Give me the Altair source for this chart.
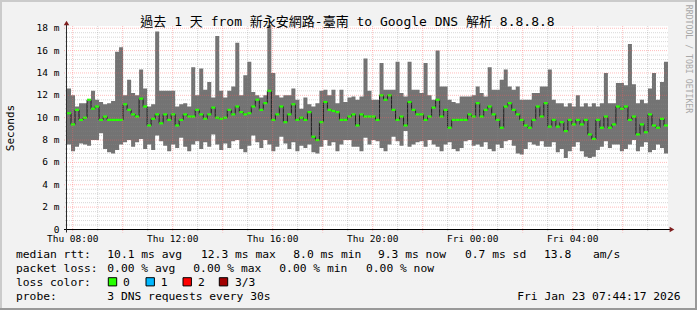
import altair as alt
import pandas as pd

# ---------------- data ----------------
smoke_max = [
    12.6, 12.0, 11.0, 11.3, 11.3, 11.6, 12.4, 11.6, 11.4, 11.2,
    11.3, 11.5, 15.9, 16.3, 12.0, 13.4, 12.2, 12.0, 14.3, 12.6,
    11.0, 11.2, 17.7, 12.4, 12.4, 12.4, 12.4, 11.0, 11.2, 11.3,
    11.0, 14.5, 12.0, 14.4, 12.5, 13.2, 11.8, 17.3, 12.4, 11.8,
    12.4, 12.8, 16.7, 12.0, 13.8, 15.0, 12.3, 12.0, 11.8, 12.0,
    18.3, 14.0, 12.0, 11.8, 12.0, 12.0, 12.6, 11.6, 10.8, 11.8,
    11.2, 11.0, 11.3, 12.4, 12.5, 12.0, 12.5, 11.3, 12.5, 11.4,
    11.8, 11.9, 11.6, 11.9, 15.3, 12.4, 11.6, 11.6, 14.9, 12.5,
    12.5, 12.5, 15.0, 12.2, 11.9, 15.0, 12.5, 12.5, 12.2, 14.9,
    12.0, 11.6, 16.0, 12.8, 12.8, 11.6, 11.4, 11.3, 11.9, 11.9,
    11.9, 12.0, 12.8, 12.2, 11.9, 14.5, 12.5, 12.5, 13.4, 14.3,
    12.8, 12.5, 12.8, 11.6, 11.6, 11.6, 12.2, 12.2, 12.8, 12.8,
    14.3, 11.6, 11.3, 11.3, 11.0, 11.3, 11.0, 12.0, 11.0, 11.3,
    11.0, 11.3, 11.0, 11.3, 14.0, 11.3, 11.3, 13.1, 13.1, 12.9,
    16.6, 13.0, 11.3, 11.6, 11.3, 12.6, 14.0, 11.6, 13.2, 15.0,
]
smoke_min = [
    7.6, 7.0, 7.4, 7.7, 7.6, 7.5, 8.0, 8.0, 8.6, 7.2,
    6.9, 6.8, 7.1, 7.6, 7.8, 8.0, 7.4, 7.8, 8.1, 7.2,
    7.6, 7.1, 8.4, 7.9, 7.5, 7.0, 7.6, 7.3, 8.2, 7.4,
    7.0, 7.6, 7.9, 7.2, 7.8, 7.4, 8.5, 7.6, 7.1, 7.7,
    7.3, 7.9, 8.0, 7.2, 6.9, 7.5, 8.4, 7.8, 7.3, 8.0,
    7.6, 7.0, 7.4, 8.3, 7.7, 7.2, 7.8, 7.0, 7.5, 7.3,
    7.6, 6.9, 6.8, 7.4, 8.0, 7.5, 7.8, 7.0, 7.6, 8.0,
    8.0, 7.4, 7.4, 7.0, 8.2, 7.6, 8.0, 7.9, 7.3, 7.0,
    7.6, 8.3, 7.9, 7.5, 8.8, 7.4, 7.6, 7.8, 7.9, 7.4,
    8.0, 7.6, 7.4, 7.0, 7.6, 7.8, 7.2, 7.0, 7.3, 7.9,
    8.0, 7.5, 7.6, 7.4, 7.8, 7.2, 7.0, 7.6, 7.3, 7.9,
    8.0, 7.5, 6.8, 6.7, 7.2, 7.8, 7.6, 7.5, 7.9, 7.4,
    7.4, 7.8, 6.9, 7.2, 6.4, 7.0, 7.4, 7.8, 7.0, 6.5,
    6.4, 6.5, 7.1, 7.4, 7.9, 7.3, 7.6, 7.6, 7.0, 7.2,
    7.6, 8.0, 7.0, 7.4, 7.8, 6.9, 7.1, 7.6, 7.3, 6.8,
]
median_rtt = [
    10.4, 9.4, 10.7, 9.8, 10.0, 11.6, 10.8, 11.0, 9.8, 10.1,
    9.8, 9.8, 9.8, 9.8, 11.2, 10.7, 10.3, 10.1, 11.7, 11.0,
    9.3, 9.9, 10.3, 9.5, 10.3, 9.8, 10.3, 9.3, 9.8, 10.3,
    10.1, 10.1, 10.7, 10.3, 9.9, 10.3, 10.9, 10.0, 9.9, 10.0,
    10.7, 10.3, 11.0, 10.5, 10.3, 10.4, 11.0, 11.6, 10.7, 11.3,
    12.4, 9.8, 10.3, 11.0, 9.6, 10.3, 11.2, 9.8, 10.0, 9.8,
    10.5, 8.3, 8.0, 9.6, 11.4, 10.7, 10.6, 10.5, 9.8, 9.8,
    10.1, 10.3, 9.3, 10.3, 10.1, 10.1, 10.1, 9.8, 12.0, 11.6,
    12.0, 10.7, 9.8, 10.1, 9.3, 11.4, 10.7, 10.3, 10.3, 9.8,
    10.1, 10.9, 11.6, 10.1, 10.7, 9.1, 9.8, 9.8, 9.8, 9.8,
    10.3, 10.1, 11.3, 10.1, 10.7, 11.0, 10.3, 9.8, 9.1, 11.0,
    11.3, 10.7, 10.3, 9.8, 9.3, 9.1, 9.8, 11.0, 10.1, 11.3,
    9.2, 9.8, 9.2, 9.6, 8.8, 9.8, 9.4, 9.8, 9.4, 9.8,
    8.5, 8.1, 9.8, 9.1, 10.1, 9.1, 9.4, 11.0, 10.8, 11.0,
    9.8, 10.1, 8.5, 9.4, 8.7, 10.3, 9.3, 9.1, 9.9, 9.3,
]

START_HOUR = 7.772            # Thu 07:46
STEP_HOURS = 24.04 / 150      # one consolidated step

x_tick_hours = [8, 12, 16, 20, 24, 28]
x_tick_labels = ["Thu 08:00", "Thu 12:00", "Thu 16:00", "Thu 20:00", "Fri 00:00", "Fri 04:00"]
y_tick_values = [0, 2, 4, 6, 8, 10, 12, 14, 16, 18]
y_tick_labels = ["0", "2 m", "4 m", "6 m", "8 m", "10 m", "12 m", "14 m", "16 m", "18 m"]

title_text = "過去 1 天 from 新永安網路-臺南 to Google DNS 解析 8.8.8.8"
legend_rows = [
    ["median rtt:", "10.1 ms avg", "12.3 ms max", "8.0 ms min", "9.3 ms now", "0.7 ms sd", "13.8", "am/s"],
    ["packet loss:", "0.00 % avg", "0.00 % max", "0.00 % min", "0.00 % now"],
    ["loss color:", "0", "1", "2", "3/3"],
    ["probe:", "3 DNS requests every 30s"],
]
loss_colors = ["#26ff00", "#00b8ff", "#ff0000", "#a10000"]
date_text = "Fri Jan 23 07:44:17 2026"
side_text = "RRDTOOL / TOBI OETIKER"

# ---------------- layout ----------------
W, H = 601, 203.5
OX, OY = 67, 26     # plot origin in page pixels
MONO = "DejaVu Sans Mono, Noto Sans CJK TC"

n = len(median_rtt)
t = [START_HOUR + i * STEP_HOURS for i in range(n + 1)]
X_END = t[-1]
steps = pd.DataFrame({
    "t": t,
    "lo": smoke_min + [smoke_min[-1]],
    "hi": smoke_max + [smoke_max[-1]],
    "med": median_rtt + [median_rtt[-1]],
})
blocks = pd.DataFrame({
    "t0": t[:-1], "t1": t[1:],
    "m0": [m - 0.1 for m in median_rtt],
    "m1": [m + 0.1 for m in median_rtt],
})

xs = alt.Scale(domain=[START_HOUR, X_END], nice=False, zero=False)
ys = alt.Scale(domain=[0, 18.2], nice=False, zero=False)

one = pd.DataFrame({"a": [0]})

def px(x):  # page x -> plot-relative
    return alt.value(x - OX)

def py(y):
    return alt.value(y - OY)

smoke = alt.Chart(steps).mark_area(interpolate="step-after", color="#737373").encode(
    x=alt.X("t:Q", scale=xs, axis=None),
    y=alt.Y("lo:Q", scale=ys, axis=None),
    y2="hi:Q",
)
medline = alt.Chart(steps).mark_line(interpolate="step-after", color="#1e1e1e", strokeWidth=1).encode(
    x=alt.X("t:Q", scale=xs, axis=None),
    y=alt.Y("med:Q", scale=ys, axis=None),
)
green = alt.Chart(blocks).mark_rect(color=loss_colors[0]).encode(
    x=alt.X("t0:Q", scale=xs, axis=None), x2="t1:Q",
    y=alt.Y("m0:Q", scale=ys, axis=None), y2="m1:Q",
)

# grid
hours_all = list(range(8, 32))
minor_x = pd.DataFrame({"h": [h for h in hours_all if h % 2 == 1]})
major_x = pd.DataFrame({"h": [h for h in hours_all if h % 2 == 0]})
minor_y = pd.DataFrame({"v": [round(i * 0.4, 2) for i in range(1, 46) if (i * 0.4) % 2 > 0.01 and (i * 0.4) % 2 < 1.99]})
major_y = pd.DataFrame({"v": y_tick_values[1:]})

gx_minor = alt.Chart(minor_x).mark_rule(color="#8c8c8c", strokeDash=[1, 1], opacity=0.35).encode(
    x=alt.X("h:Q", scale=xs, axis=None), y=alt.value(0), y2=alt.value(H + 2))
gx_major = alt.Chart(major_x).mark_rule(color="#ff5f5f", strokeDash=[1, 1], opacity=0.42).encode(
    x=alt.X("h:Q", scale=xs, axis=None), y=alt.value(0), y2=alt.value(H + 3))
gy_minor = alt.Chart(minor_y).mark_rule(color="#8c8c8c", strokeDash=[1, 1], opacity=0.35).encode(
    y=alt.Y("v:Q", scale=ys, axis=None), x=alt.value(-2), x2=alt.value(W))
gy_major = alt.Chart(major_y).mark_rule(color="#ff5f5f", strokeDash=[1, 1], opacity=0.42).encode(
    y=alt.Y("v:Q", scale=ys, axis=None), x=alt.value(-3), x2=alt.value(W))

# axes lines + arrows
x_axis = alt.Chart(one).mark_rule(color="#000000", strokeWidth=1).encode(
    x=alt.value(-3), x2=alt.value(W + 4), y=alt.value(H), )
y_axis = alt.Chart(one).mark_rule(color="#2a2a2a", strokeWidth=1).encode(
    x=alt.value(-0.5), y=alt.value(H + 3), y2=alt.value(-3))
arrow_r = alt.Chart(one).mark_point(shape="triangle-right", filled=True, color="#7f1f1f", size=30, opacity=1).encode(
    x=alt.value(W + 4), y=alt.value(H))
arrow_u = alt.Chart(one).mark_point(shape="triangle-up", filled=True, color="#7f1f1f", size=30, opacity=1).encode(
    x=alt.value(-0.5), y=alt.value(-3))

# labels
ylab_df = pd.DataFrame({"v": y_tick_values, "lab": y_tick_labels})
ylabels = alt.Chart(ylab_df).mark_text(align="right", baseline="middle", font=MONO, fontSize=9.5, color="#000").encode(
    y=alt.Y("v:Q", scale=ys, axis=None), x=alt.value(-7.5), text="lab:N")
xlab_df = pd.DataFrame({"h": x_tick_hours, "lab": x_tick_labels})
xlabels = alt.Chart(xlab_df).mark_text(align="center", baseline="middle", font=MONO, fontSize=9.5, color="#000").encode(
    x=alt.X("h:Q", scale=xs, axis=None), y=py(238.5), text="lab:N")

title = alt.Chart(one).mark_text(align="center", baseline="middle", font=MONO, fontSize=13, color="#000").encode(
    x=px(347.5), y=py(21.5), text=alt.value(title_text))
ytitle = alt.Chart(one).mark_text(align="center", baseline="middle", angle=270, font=MONO, fontSize=11, color="#000").encode(
    x=px(10.5), y=py(128), text=alt.value("Seconds"))
side = alt.Chart(one).mark_text(align="center", baseline="middle", angle=90, font=MONO, fontSize=8.2, color="#a8a8a8").encode(
    x=px(688), y=py(59), text=alt.value(side_text))

# legend text
row_y = [254.5, 268.5, 282.5, 296.5]
row_x = [
    [16, 107.3, 201, 293.3, 378, 465, 544, 593],
    [16, 107.3, 193.3, 279.3, 366],
    [16, 123, 160.7, 198, 235],
    [16, 107.3],
]
leg_recs = []
for r, (texts, xs_) in enumerate(zip(legend_rows, row_x)):
    for tx, xx in zip(texts, xs_):
        leg_recs.append({"x": xx - OX, "y": row_y[r] - OY, "t": tx})
leg_df = pd.DataFrame(leg_recs)
legend_text = alt.Chart(leg_df).mark_text(align="left", baseline="middle", font=MONO, fontSize=11.3, color="#000").encode(
    x=alt.X("x:Q", scale=None), y=alt.Y("y:Q", scale=None), text="t:N")
date = alt.Chart(one).mark_text(align="right", baseline="middle", font=MONO, fontSize=11.3, color="#000").encode(
    x=px(680.5), y=py(296.5), text=alt.value(date_text))

sw_x = [108.3, 146, 183, 219.3]
sw_df = pd.DataFrame({"x0": [x - OX for x in sw_x], "x1": [x + 8.4 - OX for x in sw_x],
                      "y0": [277.7 - OY] * 4, "y1": [285.9 - OY] * 4, "c": loss_colors})
swatches = alt.Chart(sw_df).mark_rect(stroke="#000", strokeWidth=1).encode(
    x=alt.X("x0:Q", scale=None), x2="x1:Q", y=alt.Y("y0:Q", scale=None), y2="y1:Q",
    fill=alt.Fill("c:N", scale=None))

# frame (3D shade)
frame = pd.DataFrame({
    "x0": [0, 0, 695, 0], "x1": [2, 697, 697, 697],
    "y0": [0, 0, 0, 308], "y1": [310, 2, 310, 310],
    "c": ["#cbcbcb", "#cbcbcb", "#999999", "#999999"],
})
frame["x0"] -= OX; frame["x1"] -= OX; frame["y0"] -= OY; frame["y1"] -= OY
frame_l = alt.Chart(frame).mark_rect().encode(
    x=alt.X("x0:Q", scale=None), x2="x1:Q", y=alt.Y("y0:Q", scale=None), y2="y1:Q",
    fill=alt.Fill("c:N", scale=None))

chart = alt.layer(
    smoke, medline, green,
    gx_minor, gy_minor, gx_major, gy_major,
    x_axis, y_axis, arrow_r, arrow_u,
    ylabels, xlabels, title, ytitle, side,
    legend_text, date, swatches, frame_l,
).properties(
    width=W, height=H,
    padding={"left": OX, "top": OY, "right": 697 - OX - W, "bottom": 310 - OY - H},
    autosize=alt.AutoSizeParams(type="none"),
    background="#f2f2f2",
).configure_view(stroke=None, fill="white")

chart.save("out.html", embed_options={"renderer": "svg", "actions": False})
